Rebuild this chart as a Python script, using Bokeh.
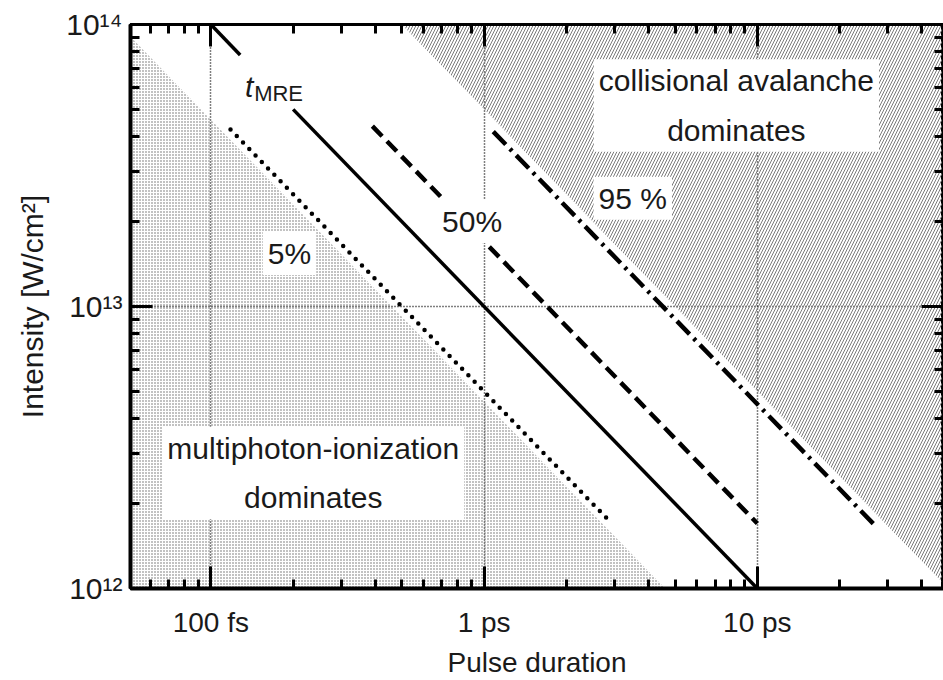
from bokeh.plotting import figure
from bokeh.models import LogAxis, FixedTicker, CustomJSTickFormatter, ColumnDataSource, Range1d, LogScale, Grid
from bokeh.core.properties import value
from bokeh.embed import file_html
from bokeh.resources import INLINE

# ---------------- data ----------------
# pulse duration in ps, intensity in W/cm^2
x_ticks = [0.1, 1.0, 10.0]
x_tick_labels = ["100 fs", "1 ps", "10 ps"]
x_minor = [0.06, 0.07, 0.08, 0.09,
           0.2, 0.3, 0.4, 0.5, 0.6, 0.7, 0.8, 0.9,
           2, 3, 4, 5, 6, 7, 8, 9,
           20, 30, 40]
y_ticks = [1e12, 1e13, 1e14]
y_tick_labels = ["10¹²", "10¹³", "10¹⁴"]
y_minor = [2e12, 3e12, 4e12, 5e12, 6e12, 7e12, 8e12, 9e12,
           2e13, 3e13, 4e13, 5e13, 6e13, 7e13, 8e13, 9e13]

# threshold lines
line5_x = [0.118, 2.85]
line5_y = [4.24e13, 1.75e12]
mre1_x = [0.1, 0.128]
mre1_y = [1e14, 7.8e13]
mre2_x = [0.2, 10.0]
mre2_y = [5e13, 1e12]
line50_x = [0.39, 10.0]
line50_y = [4.36e13, 1.7e12]
line95_x = [1.08, 27.0]
line95_y = [4.17e13, 1.67e12]

# regions
mpi_x = [0.05, 0.05, 4.6]
mpi_y = [9.2e13, 1e12, 1e12]
ava_x = [0.5, 50.0, 50.0]
ava_y = [1e14, 1e12, 1e14]

# labels
box_text = ["multiphoton-ionization\ndominates", "collisional avalanche\ndominates",
            "5%", "50%", "95 %"]
box_x = [0.237, 8.38, 0.194, 0.904, 3.5]
box_y = [2.57e12, 5.16e13, 1.54e13, 2.0e13, 2.42e13]
t_x, t_y = 0.143, 6.03e13
mre_x, mre_y = 0.144, 5.69e13

FONT = "Liberation Sans"
INK = "#1a1a1a"

p = figure(width=943, height=680, x_axis_type=None, y_axis_type=None,
           x_range=Range1d(0.0508, 48), y_range=Range1d(1e12, 1e14),
           output_backend="svg", toolbar_location=None,
           min_border_left=130, min_border_right=0, min_border_top=24, min_border_bottom=92,
           background_fill_color="white", border_fill_color="white")
p.x_scale = LogScale()
p.y_scale = LogScale()

xt = FixedTicker(ticks=x_ticks, minor_ticks=x_minor)
yt = FixedTicker(ticks=y_ticks, minor_ticks=y_minor)

code = """
let best = 0, bd = Infinity;
for (let i = 0; i < vals.length; i++) {
  const d = Math.abs(Math.log10(vals[i]) - Math.log10(tick));
  if (d < bd) { bd = d; best = i; }
}
return bd < 1e-6 ? labs[best] : "";
"""
xfmt = CustomJSTickFormatter(args=dict(vals=x_ticks, labs=x_tick_labels), code=code)
yfmt = CustomJSTickFormatter(args=dict(vals=y_ticks, labs=y_tick_labels), code=code)
blank = CustomJSTickFormatter(code="return '';")


def style(ax, width):
    ax.axis_line_width = width
    ax.axis_line_color = "black"
    ax.major_tick_in = 22
    ax.major_tick_out = 0
    ax.minor_tick_in = 9
    ax.minor_tick_out = 0
    ax.major_tick_line_width = 3
    ax.minor_tick_line_width = 3
    ax.major_tick_line_color = "black"
    ax.minor_tick_line_color = "black"


xb = LogAxis(ticker=xt, formatter=xfmt, axis_label="Pulse duration")
style(xb, 4)
xb.major_label_text_font = FONT
xb.major_label_text_font_size = "28px"
xb.major_label_text_color = INK
xb.major_label_standoff = 18
xb.axis_label_text_font = FONT
xb.axis_label_text_font_size = "28px"
xb.axis_label_text_font_style = "normal"
xb.axis_label_text_color = INK
xb.axis_label_standoff = 6
p.add_layout(xb, "below")

yl = LogAxis(ticker=yt, formatter=yfmt, axis_label="Intensity [W/cm²]")
style(yl, 4)
yl.major_label_text_font = FONT
yl.major_label_text_font_size = "30px"
yl.major_label_text_color = INK
yl.major_label_standoff = 8
yl.axis_label_text_font = FONT
yl.axis_label_text_font_size = "30px"
yl.axis_label_text_font_style = "normal"
yl.axis_label_text_color = INK
yl.axis_label_standoff = 14
p.add_layout(yl, "left")

xa = LogAxis(ticker=xt, formatter=blank, major_label_standoff=0)
style(xa, 3)
xa.major_label_text_font_size = "0px"
p.add_layout(xa, "above")

yr = LogAxis(ticker=yt, formatter=blank, major_label_standoff=0)
style(yr, 3)
yr.major_label_text_font_size = "0px"
p.add_layout(yr, "right")

gx = Grid(dimension=0, ticker=xt, grid_line_color="black", grid_line_width=1.5,
          grid_line_dash="1 2")
gy = Grid(dimension=1, ticker=yt, grid_line_color="black", grid_line_width=1.5,
          grid_line_dash="1 2")
p.add_layout(gx)
p.add_layout(gy)

p.outline_line_color = "black"
p.outline_line_width = 3

# regions
p.patch(ava_x, ava_y, fill_alpha=0, line_color=None, hatch_pattern="/",
        hatch_color="#7a7a7a", hatch_scale=6, hatch_weight=1)
p.patch(mpi_x, mpi_y, fill_alpha=0, line_color=None, hatch_pattern=".",
        hatch_color="#666666", hatch_scale=3, hatch_weight=1)

# lines
p.line(line5_x, line5_y, line_color="black", line_width=4.5, line_dash="0 9", line_cap="round")
p.line(mre1_x, mre1_y, line_color="black", line_width=3.5)
p.line(mre2_x, mre2_y, line_color="black", line_width=3.5)
p.line(line50_x, line50_y, line_color="black", line_width=4.5, line_dash="14 7")
p.line(line95_x, line95_y, line_color="black", line_width=4.5, line_dash="18 6 3 6")

# labels
src = ColumnDataSource(dict(x=box_x, y=box_y, text=box_text))
p.text(x="x", y="y", text="text", source=src, text_font=value(FONT), text_font_size="30px",
       text_color=INK, text_align="center", text_baseline="middle", text_line_height=1.5,
       background_fill_color="white", padding=5)
p.text(x=[t_x], y=[t_y], text=["t"], text_font=value(FONT), text_font_size="30px",
       text_font_style="italic", text_color=INK, text_align="right", text_baseline="alphabetic")
p.text(x=[mre_x], y=[mre_y], text=["MRE"], text_font=value(FONT), text_font_size="22px",
       text_color=INK, text_align="left", text_baseline="alphabetic")

open("out.html", "w").write(file_html(p, INLINE))
